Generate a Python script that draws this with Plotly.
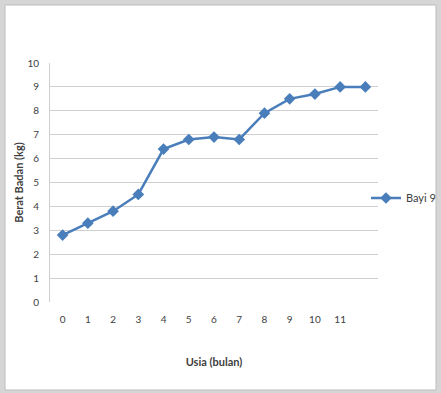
import plotly.graph_objects as go

# Age in months and baby weight (kg)
usia = list(range(13))
berat = [2.8, 3.3, 3.8, 4.5, 6.4, 6.8, 6.9, 6.8, 7.9, 8.5, 8.7, 9.0, 9.0]
tick_vals = list(range(12))
tick_text = [str(v) for v in tick_vals]
y_ticks = list(range(11))

W, H = 441, 393
L, R, T, B = 50, 63, 63, 91
pw, ph = W - L - R, H - T - B


def px_x(x):
    return (x - L) / pw


def px_y(y):
    return (H - B - y) / ph


FONT = "Lato, 'Open Sans', sans-serif"
LINE = "#4a7ebb"

fig = go.Figure()
fig.add_trace(go.Scatter(
    x=usia, y=berat, mode="lines+markers", name="Bayi 9",
    line=dict(color=LINE, width=2.5),
    marker=dict(symbol="diamond", size=9, color=LINE),
))

# outer chart frame
fig.add_shape(type="rect", xref="paper", yref="paper", layer="below",
              x0=px_x(5), x1=px_x(436), y0=px_y(390), y1=px_y(5),
              fillcolor="white", line=dict(color="#bdbdbd", width=1))

fig.update_layout(
    width=W, height=H,
    margin=dict(l=L, r=R, t=T, b=B, autoexpand=False),
    paper_bgcolor="#d6d6d6",
    plot_bgcolor="white",
    font=dict(family=FONT, size=10, color="#404040"),
    showlegend=True,
    legend=dict(xref="container", yref="container",
                x=366 / W, xanchor="left", y=1 - 198 / H, yanchor="middle",
                bgcolor="rgba(0,0,0,0)", font=dict(size=11, color="#404040"),
                itemwidth=30, tracegroupgap=0),
    xaxis=dict(
        range=[-0.5, 12.5], tickvals=tick_vals, ticktext=tick_text,
        showgrid=False, zeroline=False, showline=False, ticks="",
        ticklabelstandoff=10,
        title=dict(text="<b>Usia (bulan)</b>", font=dict(size=11, color="#404040"),
                   standoff=34),
    ),
    yaxis=dict(
        range=[0, 10], tickvals=y_ticks, showgrid=True, gridcolor="#d0d0d0",
        gridwidth=1, zeroline=False, showline=True, linecolor="#d0d0d0",
        linewidth=1, ticks="", ticklabelstandoff=8,
        title=dict(text="<b>Berat Badan (kg)</b>", font=dict(size=11, color="#404040"),
                   standoff=1),
    ),
)

fig.write_html("out.html")
